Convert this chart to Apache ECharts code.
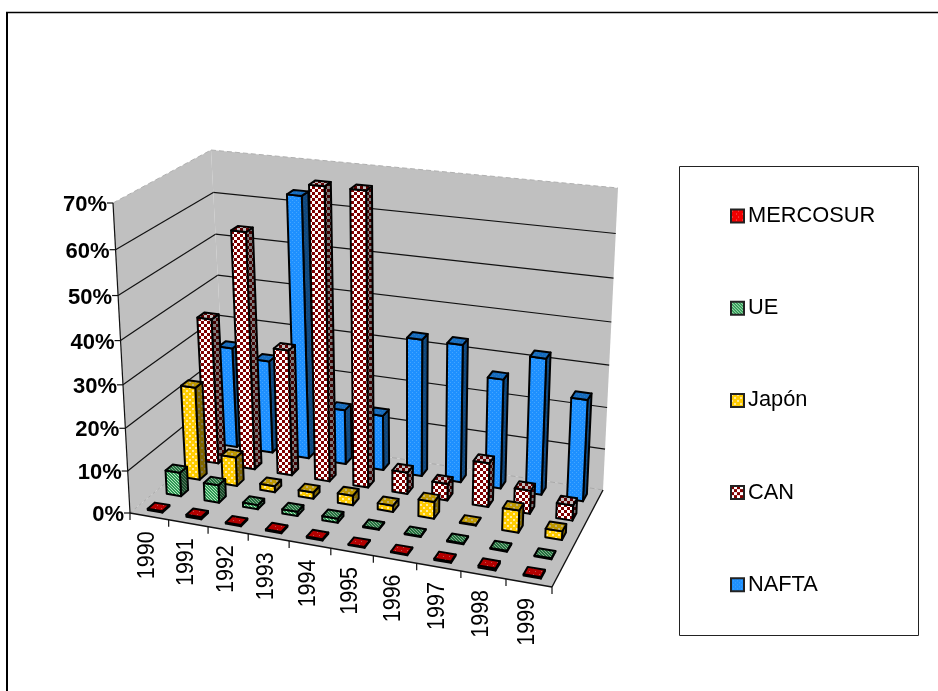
<!DOCTYPE html>
<html>
<head>
<meta charset="utf-8">
<style>html,body{margin:0;padding:0;background:#fff}#chart{width:938px;height:691px}</style>
<script src="https://cdn.jsdelivr.net/npm/echarts@6/dist/echarts.min.js"></script>
</head>
<body>
<div id="chart"></div>
<script>
var years = ['1990','1991','1992','1993','1994','1995','1996','1997','1998','1999'];
var yTicks = [0,10,20,30,40,50,60,70];
var seriesNames = ['MERCOSUR','UE','Japón','CAN','NAFTA'];
var mercosur = [0.3,0.5,0.3,0.3,0.3,0.2,0.2,0.3,0.5,0.3];
var ue       = [5.7,4.2,1,1,1,0.2,0.2,0.2,0.2,0.2];
var japon    = [22.5,7,1.5,1.5,2.3,1.5,4,0.2,5.2,2];
var can      = [35.5,57,30.5,69.2,69.2,5.2,4,10.5,5.5,3.6];
var nafta    = [25,23,63.5,13.5,13.5,33.2,33.2,26.3,32.5,24.2];

/* corners of the box the chart is drawn in: [front/back][left/right][floor/top] */
var box = {
  A:[130,513], B:[552,587], C:[603,490], D:[226,432],
  E:[113,203], H:[567,255], G:[618,188], F:[211,150]
};
function warp(t,a){return a*t/(1+(a-1)*t);}
function proj(u,d,w){
  var U=warp(u,0.908),W=warp(w,0.94),b=box,out=[0,0];
  for(var k=0;k<2;k++){
    var f0=b.A[k]*(1-U)+b.B[k]*U, f1=b.E[k]*(1-U)+b.H[k]*U;
    var g0=b.D[k]*(1-U)+b.C[k]*U, g1=b.F[k]*(1-U)+b.G[k]*U;
    var lo=f0*(1-d)+g0*d, hi=f1*(1-d)+g1*d;
    out[k]=lo*(1-W)+hi*W;
  }
  return out;
}

function pattern(draw,dark,size){
  var c=document.createElement('canvas');c.width=c.height=size;
  var g=c.getContext('2d');draw(g,size);
  if(dark){g.fillStyle='rgba(0,0,0,'+dark+')';g.fillRect(0,0,size,size);}
  return {image:c,repeat:'repeat'};
}
var drawers={
  'MERCOSUR':[function(g,s){g.fillStyle='#f00000';g.fillRect(0,0,s,s);g.fillStyle='#ff7070';g.fillRect(1,1,1,1);g.fillRect(5,4,1,1);},6],
  'UE':[function(g,s){g.fillStyle='#2f9a55';g.fillRect(0,0,s,s);g.fillStyle='#b5e6bf';for(var i=0;i<s;i++){g.fillRect(i,i,1,1);}},3],
  'Japón':[function(g,s){g.fillStyle='#ffcc00';g.fillRect(0,0,s,s);g.fillStyle='#ffe9a0';g.fillRect(0,0,2,2);g.fillRect(3,3,2,2);},6],
  'CAN':[function(g,s){g.fillStyle='#ffffff';g.fillRect(0,0,s,s);g.fillStyle='#800000';g.fillRect(0,0,3,3);g.fillRect(3,3,3,3);},6],
  'NAFTA':[function(g,s){g.fillStyle='#1e90ff';g.fillRect(0,0,s,s);g.fillStyle='#45a6ff';g.fillRect(0,0,1,1);g.fillRect(2,2,1,1);},4]
};
var fills={};
seriesNames.forEach(function(n){
  fills[n]={front:pattern(drawers[n][0],0,drawers[n][1]),top:pattern(drawers[n][0],0.25,drawers[n][1]),side:pattern(drawers[n][0],0.5,drawers[n][1])};
});

var GRID=100;
function poly(pts,fill,lw){
  return {type:'polygon',shape:{points:pts},style:{fill:fill,stroke:'#000',lineWidth:lw,lineJoin:'round'},silent:true};
}
function line(a,b,color,lw,dash){
  return {type:'line',shape:{x1:a[0],y1:a[1],x2:b[0],y2:b[1]},style:{stroke:color,lineWidth:lw,lineDash:dash||null},silent:true};
}
function barRender(name,row){
  return function(params,api){
    var c=api.coord([api.value(0),api.value(1)]);
    var band=api.size([1,0])[0]/GRID;
    var u=c[0]/GRID,w=1-c[1]/GRID;
    var hw=band*0.19,u0=u-hw,u1=u+hw;
    var d0=(row+0.31)/5,d1=(row+0.69)/5;
    var f=fills[name],lw=2;
    return {type:'group',children:[
      poly([proj(u1,d0,0),proj(u1,d1,0),proj(u1,d1,w),proj(u1,d0,w)],f.side,lw),
      poly([proj(u0,d0,0),proj(u1,d0,0),proj(u1,d0,w),proj(u0,d0,w)],f.front,lw),
      poly([proj(u0,d0,w),proj(u1,d0,w),proj(u1,d1,w),proj(u0,d1,w)],f.top,lw)
    ]};
  };
}
function frameRender(params,api){
  var ch=[];
  var A=proj(0,0,0),B=proj(1,0,0),C=proj(1,1,0),D=proj(0,1,0),E=proj(0,0,1),F=proj(0,1,1),G=proj(1,1,1);
  ch.push({type:'polygon',shape:{points:[A,B,C,D]},style:{fill:'#c0c0c0'},silent:true});
  ch.push({type:'polygon',shape:{points:[A,D,F,E]},style:{fill:'#c0c0c0'},silent:true});
  ch.push({type:'polygon',shape:{points:[D,C,G,F]},style:{fill:'#c0c0c0'},silent:true});
  ch.push(line(E,F,'#b0b0b0',1,[5,3]));
  ch.push(line(F,G,'#b0b0b0',1,[5,3]));
  ch.push(line(A,D,'#a8a8a8',1,[3,3]));
  ch.push(line(D,C,'#a8a8a8',1,[5,3]));
  yTicks.forEach(function(t){
    var w=1-api.coord([0,t])[1]/GRID;
    var a=proj(0,0,w),b=proj(0,1,w),c=proj(1,1,w);
    if(t>0&&t<70){ch.push(line(a,b,'#111',1.2));ch.push(line(b,c,'#111',1.2));}
    ch.push(line([a[0]-6,a[1]],a,'#111',1.2));
    ch.push({type:'text',x:a[0]-6,y:a[1]+2,silent:true,style:{text:t+'%',align:'right',verticalAlign:'middle',fontFamily:'"Liberation Sans",Arial,sans-serif',fontWeight:'bold',fontSize:22,fill:'#000'}});
  });
  ch.push(line(A,E,'#111',1.2));
  ch.push(line(A,B,'#111',1.4));
  ch.push(line(B,C,'#111',1.4));
  for(var i=0;i<=years.length;i++){
    var p=proj(i/years.length,0,0);
    ch.push(line(p,[p[0],p[1]+7],'#111',1.2));
  }
  years.forEach(function(y,i){
    var cx=api.coord([i,0])[0]/GRID,p=proj(cx,0,0);
    ch.push({type:'text',x:p[0]-1.5,y:p[1]+15,rotation:Math.PI/2,scaleY:1.08,silent:true,style:{text:y,align:'right',verticalAlign:'middle',fontFamily:'"Liberation Sans",Arial,sans-serif',fontSize:21.5,fill:'#000'}});
  });
  return {type:'group',children:ch};
}
function barSeries(name,row,values){
  return {name:name,type:'custom',coordinateSystem:'cartesian2d',clip:false,silent:true,
    renderItem:barRender(name,row),
    encode:{x:0,y:1},
    data:values.map(function(v,i){return [i,v];})};
}
var chart=echarts.init(document.getElementById('chart'),null,{renderer:'canvas'});
chart.setOption({
  animation:false,
  backgroundColor:'#fff',
  grid:{left:0,top:0,width:GRID,height:GRID,show:false},
  xAxis:{type:'category',data:years,show:false},
  yAxis:{type:'value',min:0,max:70,interval:10,show:false},
  legend:{
    orient:'vertical',left:730,top:205,padding:0,itemGap:70.2,itemWidth:13,itemHeight:13,
    icon:'rect',selectedMode:false,
    textStyle:{fontFamily:'"Liberation Sans",Arial,sans-serif',fontSize:21.8,color:'#000',padding:[0,0,12,-1]},
    data:seriesNames.map(function(n){return {name:n,icon:'rect',itemStyle:{color:fills[n].front,borderColor:'#222',borderWidth:2}};})
  },
  graphic:[
    {type:'line',silent:true,shape:{x1:7,y1:12,x2:7,y2:691},style:{stroke:'#000',lineWidth:2}},
    {type:'line',silent:true,shape:{x1:6,y1:12.5,x2:938,y2:12.5},style:{stroke:'#000',lineWidth:1.5}},
    {type:'rect',silent:true,shape:{x:679.5,y:166.5,width:239,height:469},style:{fill:'none',stroke:'#222',lineWidth:1}}
  ],
  series:[
    {name:'frame',type:'custom',coordinateSystem:'cartesian2d',clip:false,silent:true,renderItem:frameRender,data:[[0,0]]},
    barSeries('NAFTA',4,nafta),
    barSeries('CAN',3,can),
    barSeries('Japón',2,japon),
    barSeries('UE',1,ue),
    barSeries('MERCOSUR',0,mercosur)
  ]
});
</script>
</body>
</html>
